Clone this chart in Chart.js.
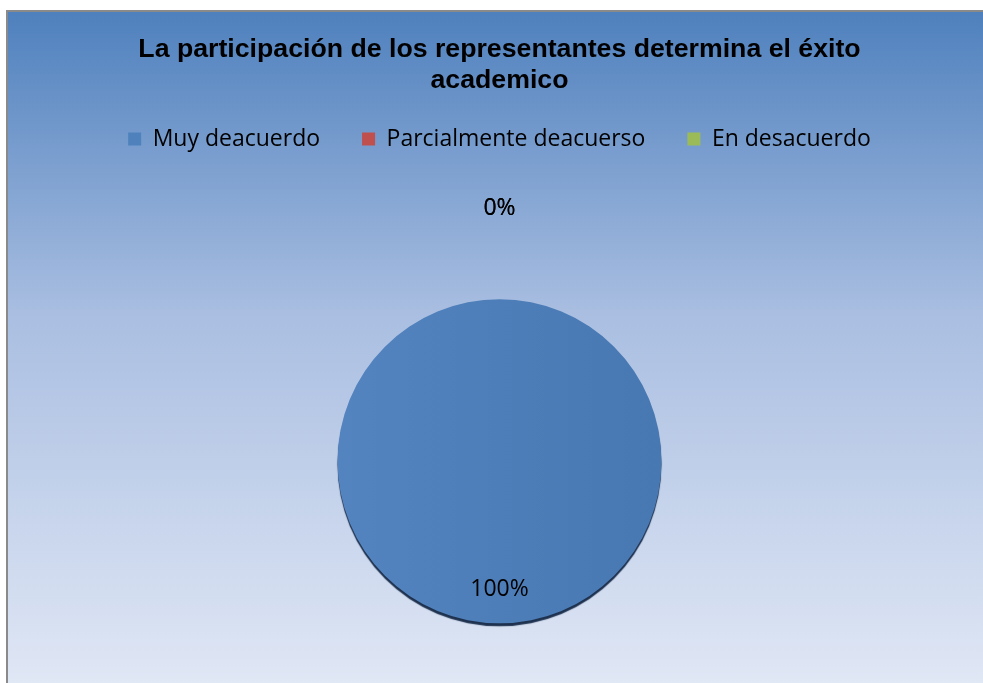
<!DOCTYPE html>
<html>
<head>
<meta charset="utf-8">
<title>La participación de los representantes</title>
<script src="https://cdn.jsdelivr.net/npm/chart.js@4.4.1/dist/chart.umd.min.js"></script>
<style>
  html, body { margin: 0; padding: 0; background: #fff; }
  #wrap { position: relative; width: 983px; height: 683px; }
</style>
</head>
<body>
<div id="wrap"><canvas id="pieChart" width="983" height="683"></canvas></div>
<script>
// Chart data
const TITLE_LINES = ["La participación de los representantes determina el éxito", "academico"];
const CATEGORIES = ["Muy deacuerdo", "Parcialmente deacuerso", "En desacuerdo"];
const VALUES = [100, 0, 0];
const COLORS = ["#4f81bd", "#c0504d", "#9bbb59"];

const LABEL_FONT = "'Open Sans', 'Noto Sans', sans-serif";

// gradient panel with grey border, like the office chart area
const panelBackground = {
  id: "panelBackground",
  beforeDraw(chart) {
    const ctx = chart.ctx;
    const w = chart.width, h = chart.height;
    ctx.save();
    ctx.fillStyle = "#ffffff";
    ctx.fillRect(0, 0, w, h);
    const g = ctx.createLinearGradient(0, 10, 0, h);
    g.addColorStop(0, "#4e80bd");
    g.addColorStop(0.45, "#a9bee1");
    g.addColorStop(1, "#e0e7f5");
    ctx.fillStyle = g;
    ctx.fillRect(7, 10, w - 7, h - 10);
    ctx.fillStyle = "#8a8a8a";
    ctx.fillRect(6, 10, w - 6, 2);
    ctx.fillRect(6, 10, 2, h - 10);
    ctx.restore();
  },
};

// extra room under the legend so the pie sits low in the panel
const legendSpacer = {
  id: "legendSpacer",
  beforeInit(chart) {
    const origFit = chart.legend.fit;
    chart.legend.fit = function () {
      origFit.bind(chart.legend)();
      this.height += 79;
    };
  },
};

// dark edge under the pie
const pieShadow = {
  id: "pieShadow",
  beforeDatasetDraw(chart) {
    const ctx = chart.ctx;
    ctx.save();
    ctx.shadowColor = "rgba(20, 40, 70, 0.95)";
    ctx.shadowOffsetY = 3;
    ctx.shadowBlur = 1;
  },
  afterDatasetDraw(chart) {
    chart.ctx.restore();
  },
};

// percentage labels
const pctLabels = {
  id: "pctLabels",
  afterDatasetsDraw(chart) {
    const ctx = chart.ctx;
    const meta = chart.getDatasetMeta(0);
    const data = chart.data.datasets[0].data;
    const total = data.reduce((a, b) => a + b, 0);
    ctx.save();
    ctx.font = "23px " + LABEL_FONT;
    ctx.fillStyle = "#000";
    ctx.textAlign = "center";
    ctx.textBaseline = "middle";
    meta.data.forEach((arc, i) => {
      const p = arc.getProps(["x", "y", "startAngle", "endAngle", "outerRadius"], true);
      const mid = (p.startAngle + p.endAngle) / 2;
      const pct = Math.round((data[i] / total) * 100);
      const dist = data[i] > 0 ? p.outerRadius * 0.79 : p.outerRadius + 91;
      ctx.fillText(pct + "%", p.x + Math.cos(mid) * dist, p.y + Math.sin(mid) * dist);
    });
    ctx.restore();
  },
};

const ctx = document.getElementById("pieChart").getContext("2d");

function pieFill(context) {
  const i = context.dataIndex;
  const area = context.chart.chartArea;
  if (i !== 0 || !area) return COLORS[i];
  const c = context.chart.ctx;
  const g = c.createLinearGradient(area.left + area.width / 2 - 162, 0, area.left + area.width / 2 + 162, 0);
  g.addColorStop(0, "#5384bf");
  g.addColorStop(1, "#4878b2");
  return g;
}

new Chart(ctx, {
  type: "pie",
  data: {
    labels: CATEGORIES,
    datasets: [{
      data: VALUES,
      backgroundColor: pieFill,
      borderWidth: 0,
      radius: 162,
    }],
  },
  options: {
    responsive: false,
    animation: false,
    layout: { padding: { top: 12, left: 16, right: 0, bottom: 0 } },
    plugins: {
      title: {
        display: true,
        text: TITLE_LINES,
        color: "#000",
        font: { family: "Arial, 'Liberation Sans', sans-serif", size: 26.7, weight: "bold", lineHeight: 1.17 },
        padding: { top: 22, bottom: -11 },
      },
      legend: {
        position: "top",
        labels: {
          color: "#000",
          font: { family: LABEL_FONT, size: 23 },
          boxWidth: 13,
          boxHeight: 13,
          padding: 42,
          generateLabels(chart) {
            return CATEGORIES.map((name, i) => ({
              text: name,
              fillStyle: COLORS[i],
              strokeStyle: COLORS[i],
              lineWidth: 0,
              index: i,
            }));
          },
        },
      },
      tooltip: { enabled: false },
    },
  },
  plugins: [panelBackground, legendSpacer, pieShadow, pctLabels],
});
</script>
</body>
</html>
